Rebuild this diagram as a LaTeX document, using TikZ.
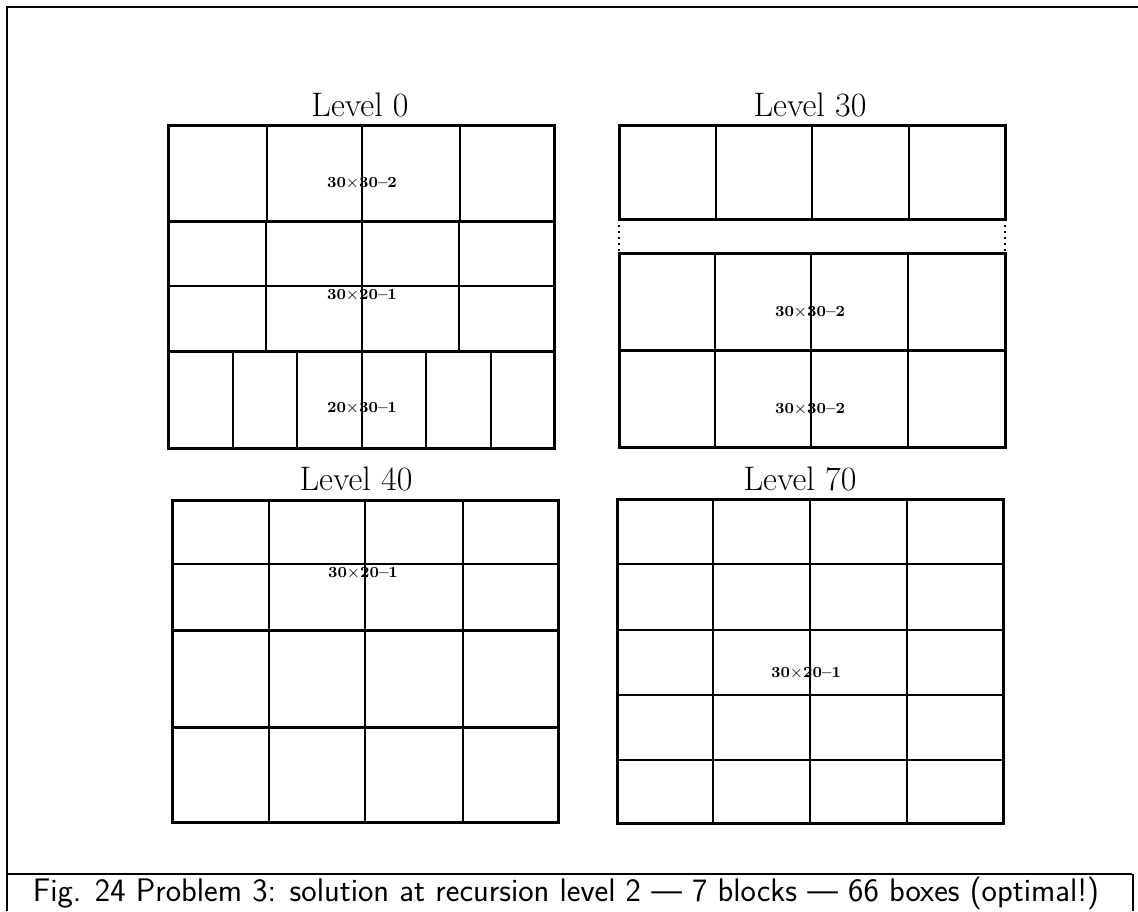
\documentclass[tikz,border=0pt]{standalone}
\usepackage{tikz}
\usetikzlibrary{positioning}

\begin{document}
\begin{tikzpicture}[
  x=0.5pt, y=-0.5pt,
  frameline/.style={line width=0.9pt},
  blockline/.style={line width=1.5pt},
  cellline/.style={line width=0.85pt},
  gapline/.style={line width=1pt, dotted},
  lvltitle/.style={font=\fontsize{17}{19}\selectfont},
  celllabel/.style={font=\fontsize{7.7}{9}\selectfont\bfseries, inner sep=0pt},
  figcaption/.style={font=\fontsize{16.3}{18}\selectfont\sffamily, inner sep=0pt},
]
  \useasboundingbox (0,0) rectangle (1138,911);

  % Frame and caption bar
  \draw[frameline] (1138,7) -- (7,7) -- (7,911);
  \draw[frameline] (7,874) -- (1132,874);
  \draw[frameline] (1133,874) -- (1133,911);
  \node[figcaption] (caption) at (566,893) {Fig. 24 Problem 3: solution at recursion level 2 --- 7 blocks --- 66 boxes (optimal!)};

  % Level 0
  \node[lvltitle] (t0) at (360,105) {Level 0};
  \draw[cellline] (168,286) -- (554,286);
  \draw[cellline] (267,125) -- (267,221) (362,125) -- (362,448) (460,125) -- (460,221);
  \draw[cellline] (266,221) -- (266,351) (459,221) -- (459,351);
  \draw[cellline] (233,351) -- (233,448) (297,351) -- (297,448) (426,351) -- (426,448) (491,351) -- (491,448);
  \draw[blockline] (168,125) rectangle (554,448);
  \draw[blockline] (168,221) -- (554,221) (168,351) -- (554,351);
  \node[celllabel] (l0a) at (362,183) {30$\times$30--2};
  \node[celllabel] (l0b) at (362,295) {30$\times$20--1};
  \node[celllabel] (l0c) at (362,408) {20$\times$30--1};

  % Level 30
  \node[lvltitle] (t30) at (810,105) {Level 30};
  \draw[cellline] (716,125) -- (716,219) (812,125) -- (812,219) (909,125) -- (909,219);
  \draw[blockline] (619,125) rectangle (1005,219);
  \draw[gapline] (619,219) -- (619,253) (1005,219) -- (1005,253);
  \draw[cellline] (715,253) -- (715,447) (811,253) -- (811,447) (908,253) -- (908,447);
  \draw[blockline] (619,253) rectangle (1005,447);
  \draw[blockline] (619,350) -- (1005,350);
  \node[celllabel] (l30a) at (810,312) {30$\times$30--2};
  \node[celllabel] (l30b) at (810,409) {30$\times$30--2};

  % Level 40
  \node[lvltitle] (t40) at (356,479) {Level 40};
  \draw[cellline] (172,564) -- (558,564);
  \draw[cellline] (269,500) -- (269,822) (365,500) -- (365,822) (463,500) -- (463,822);
  \draw[blockline] (172,500) rectangle (558,822);
  \draw[blockline] (172,630) -- (558,630) (172,727) -- (558,727);
  \node[celllabel] (l40a) at (363,573) {30$\times$20--1};

  % Level 70
  \node[lvltitle] (t70) at (800,479) {Level 70};
  \draw[cellline] (617,564) -- (1003,564) (617,630) -- (1003,630) (617,695) -- (1003,695) (617,760) -- (1003,760);
  \draw[cellline] (713,499) -- (713,823) (810,499) -- (810,823) (907,499) -- (907,823);
  \draw[blockline] (617,499) rectangle (1003,823);
  \node[celllabel] (l70a) at (806,673) {30$\times$20--1};

\end{tikzpicture}
\end{document}
